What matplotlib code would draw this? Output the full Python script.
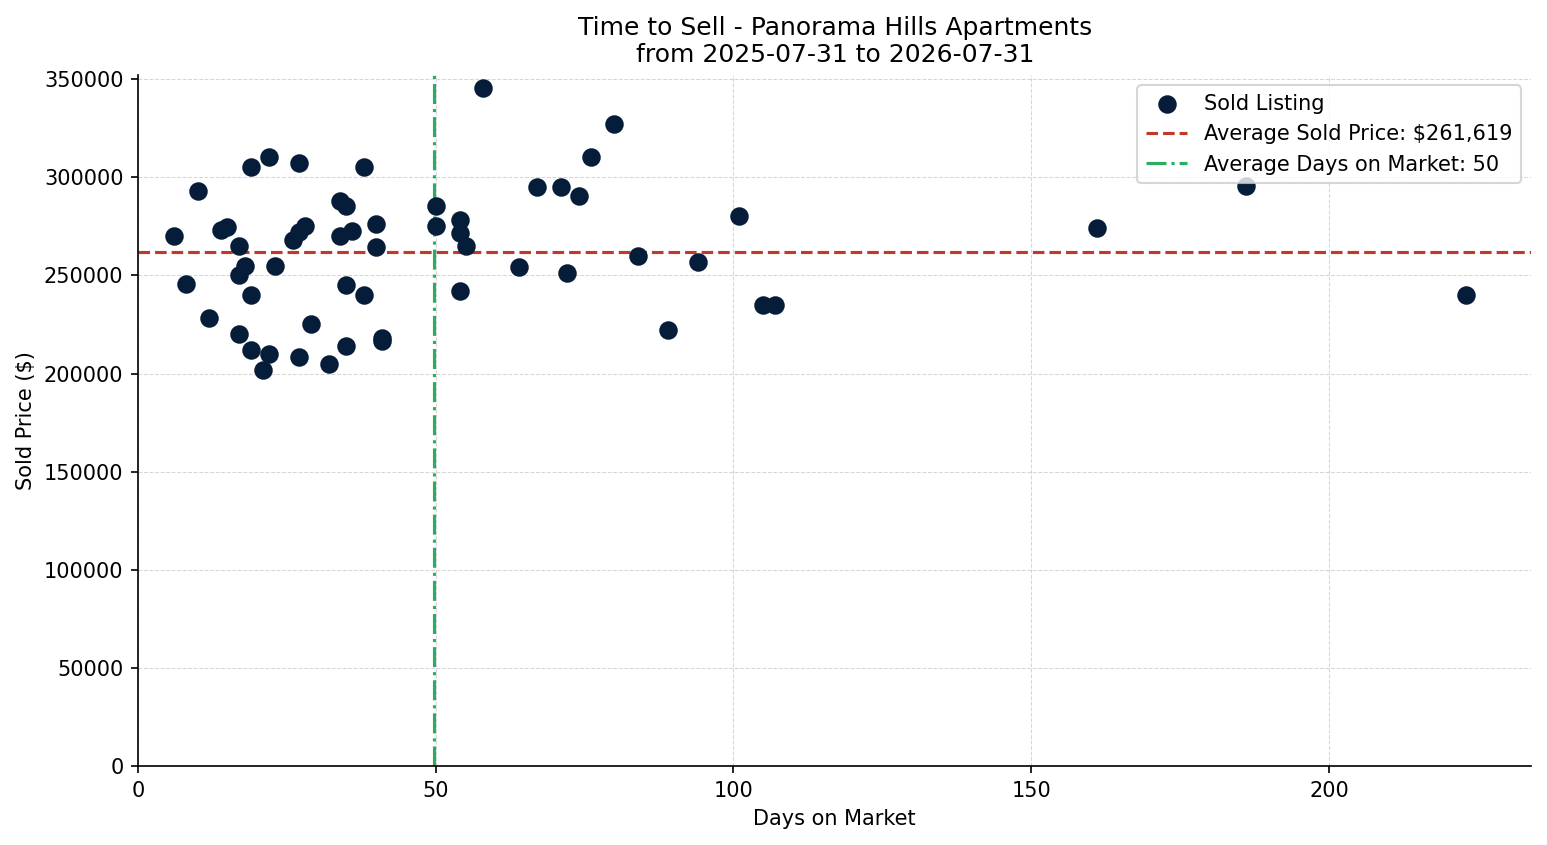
import numpy as np
import matplotlib
matplotlib.use("Agg")
import matplotlib.pyplot as plt

# sold listings
days_on_market = [6, 8, 10, 12, 14, 15, 17, 17, 18, 19, 19, 17, 19, 21, 22, 22, 23, 26, 27, 28,
                  27, 27, 29, 32, 34, 35, 34, 36, 35, 35, 38, 38, 40, 40, 41, 41,
                  50, 50, 54, 54, 55, 54, 58, 64, 67, 71, 74, 72, 76, 80, 84, 89, 94, 101,
                  105, 107, 161, 186, 223]
sold_price = [270000, 245700, 293000, 228400, 273200, 274700, 265000, 250300, 254900, 305200,
              240100, 220300, 212100, 202000, 310300, 210100, 254900, 268100, 272200, 275200,
              307300, 208600, 225400, 205000, 287900, 285400, 270100, 272700, 245200, 214200,
              305200, 240100, 276200, 264500, 218200, 216700,
              285400, 275200, 278300, 271600, 265000, 242100, 345400, 254400, 295000, 295000,
              290500, 251300, 310300, 327100, 260000, 222300, 256900, 280300,
              235000, 235000, 274200, 295500, 240100]

avg_price = 261619
avg_days = 49.7

fig, ax = plt.subplots(figsize=(1547 / 150, 845 / 150), dpi=150)

ax.scatter(days_on_market, sold_price, s=62, color="#061d3a", zorder=3, label="Sold Listing")
ax.axhline(avg_price, color="#c0392b", linestyle="--", linewidth=1.5,
           label=f"Average Sold Price: ${avg_price:,.0f}")
ax.axvline(avg_days, color="#27ae60", linestyle="-.", linewidth=1.5,
           label=f"Average Days on Market: {avg_days:.0f}")

ax.set_xlim(0, 234)
ax.set_ylim(0, 352000)
ax.set_xlabel("Days on Market")
ax.set_ylabel("Sold Price ($)")
ax.set_title("Time to Sell - Panorama Hills Apartments\nfrom 2025-07-31 to 2026-07-31", fontsize=12)
ax.grid(True, linestyle="--", linewidth=0.5, color="#cccccc", alpha=0.8)
ax.spines["top"].set_visible(False)
ax.spines["right"].set_visible(False)
ax.legend(loc="upper right")

plt.tight_layout(pad=0.75)
plt.savefig("out.png")
